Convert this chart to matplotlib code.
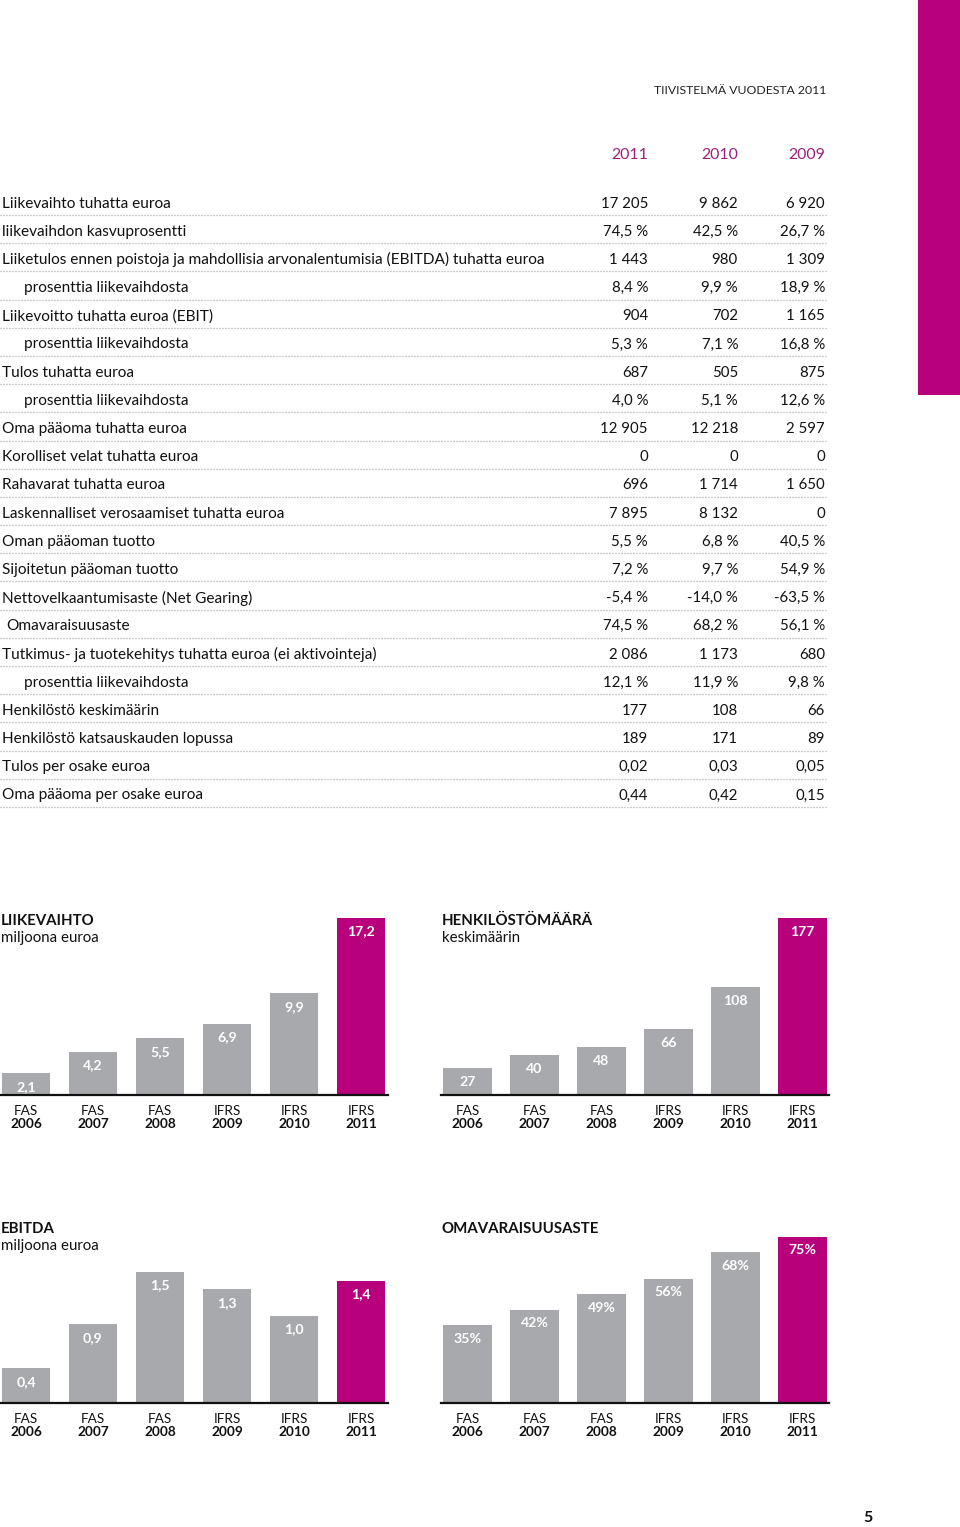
import matplotlib
matplotlib.use("Agg")
import matplotlib.pyplot as plt
from matplotlib.patches import Rectangle
from matplotlib.lines import Line2D

plt.rcParams['font.family'] = ['Lato', 'DejaVu Sans']

W, H = 960, 1527
MAGENTA = '#B8007C'
HEADER = '#9E1F7C'
GRAY = '#A7A9AC'

# ---------------- data ----------------
header_title = "TIIVISTELMÄ VUODESTA 2011"
years = ["2011", "2010", "2009"]

row_labels = [
    "Liikevaihto tuhatta euroa",
    "liikevaihdon kasvuprosentti",
    "Liiketulos ennen poistoja ja mahdollisia arvonalentumisia (EBITDA) tuhatta euroa",
    "prosenttia liikevaihdosta",
    "Liikevoitto tuhatta euroa (EBIT)",
    "prosenttia liikevaihdosta",
    "Tulos tuhatta euroa",
    "prosenttia liikevaihdosta",
    "Oma pääoma tuhatta euroa",
    "Korolliset velat tuhatta euroa",
    "Rahavarat tuhatta euroa",
    "Laskennalliset verosaamiset tuhatta euroa",
    "Oman pääoman tuotto",
    "Sijoitetun pääoman tuotto",
    "Nettovelkaantumisaste (Net Gearing)",
    "Omavaraisuusaste",
    "Tutkimus- ja tuotekehitys tuhatta euroa (ei aktivointeja)",
    "prosenttia liikevaihdosta",
    "Henkilöstö keskimäärin",
    "Henkilöstö katsauskauden lopussa",
    "Tulos per osake euroa",
    "Oma pääoma per osake euroa",
]
row_indent = [0, 0, 0, 2, 0, 2, 0, 2, 0, 0, 0, 0, 0, 0, 0, 1, 0, 2, 0, 0, 0, 0]
vals_2011 = ["17 205", "74,5 %", "1 443", "8,4 %", "904", "5,3 %", "687", "4,0 %",
             "12 905", "0", "696", "7 895", "5,5 %", "7,2 %", "-5,4 %", "74,5 %",
             "2 086", "12,1 %", "177", "189", "0,02", "0,44"]
vals_2010 = ["9 862", "42,5 %", "980", "9,9 %", "702", "7,1 %", "505", "5,1 %",
             "12 218", "0", "1 714", "8 132", "6,8 %", "9,7 %", "-14,0 %", "68,2 %",
             "1 173", "11,9 %", "108", "171", "0,03", "0,42"]
vals_2009 = ["6 920", "26,7 %", "1 309", "18,9 %", "1 165", "16,8 %", "875", "12,6 %",
             "2 597", "0", "1 650", "0", "40,5 %", "54,9 %", "-63,5 %", "56,1 %",
             "680", "9,8 %", "66", "89", "0,05", "0,15"]

chart_std = ["FAS", "FAS", "FAS", "IFRS", "IFRS", "IFRS"]
chart_years = ["2006", "2007", "2008", "2009", "2010", "2011"]

liikevaihto = [2.1, 4.2, 5.5, 6.9, 9.9, 17.2]
liikevaihto_lbl = ["2,1", "4,2", "5,5", "6,9", "9,9", "17,2"]
henkilosto = [27, 40, 48, 66, 108, 177]
henkilosto_lbl = ["27", "40", "48", "66", "108", "177"]
ebitda = [0.4, 0.9, 1.5, 1.3, 1.0, 1.4]
ebitda_lbl = ["0,4", "0,9", "1,5", "1,3", "1,0", "1,4"]
omavaraisuus = [35, 42, 49, 56, 68, 75]
omavaraisuus_lbl = ["35%", "42%", "49%", "56%", "68%", "75%"]

# ---------------- figure ----------------
fig = plt.figure(figsize=(W / 100, H / 100), dpi=100)
fig.patch.set_facecolor('white')


def fx(x):
    return x / W


def fy(y):
    return 1 - y / H


def ftext(x, y, s, **kw):
    kw.setdefault('va', 'center')
    fig.text(fx(x), fy(y), s, **kw)


# side magenta block
fig.patches.append(Rectangle((fx(918), fy(395)), fx(42), 395 / H,
                             transform=fig.transFigure, facecolor=MAGENTA,
                             edgecolor='none'))

ftext(826, 90, header_title, ha='right', fontsize=8.8, color='#222222')

col_x = [648, 738, 825]
for x, yr in zip(col_x, years):
    ftext(x, 155, yr, ha='right', fontsize=11.4, color=HEADER)

row0 = 203.5
dy = 28.19
indent_px = {0: 2, 1: 6, 2: 24}
for i, lab in enumerate(row_labels):
    y = row0 + i * dy
    ftext(indent_px[row_indent[i]], y, lab, ha='left', fontsize=11.1, color='#111111')
    for x, v in zip(col_x, (vals_2011[i], vals_2010[i], vals_2009[i])):
        ftext(x, y, v, ha='right', fontsize=10.8, color='#111111')
    ly = fy(y + 11.5)
    fig.lines.append(Line2D([fx(0), fx(827)], [ly, ly], transform=fig.transFigure,
                            color='#9a9a9a', lw=0.9, linestyle=(0, (0.8, 1.6))))


def bar_chart(left_px, baseline_px, height_px, values, labels, k,
              title, subtitle, title_y):
    width_px = 5.8 * 67
    ax = fig.add_axes([fx(left_px), fy(baseline_px), width_px / W, height_px / H])
    ax.set_xlim(-0.4, 5.4)
    ax.set_ylim(0, height_px / k)
    colors = [GRAY] * 5 + [MAGENTA]
    xs = list(range(len(values)))
    ax.bar(xs, values, width=0.72, color=colors, edgecolor='none')
    ax.axhline(0, color='#111111', lw=1.6, clip_on=False)
    for x, v, lab in zip(xs, values, labels):
        ax.annotate(lab, (x, v), xytext=(0, -9.8), textcoords='offset points',
                    ha='center', va='center', color='white', fontsize=10.2,
                    fontweight='bold')
    ax.axis('off')
    # category labels under the axis
    for x, s, yr in zip(xs, chart_std, chart_years):
        xp = left_px + (x + 0.4) * 67
        ftext(xp, baseline_px + 16, s, ha='center', fontsize=9.8, color='#111111')
        ftext(xp, baseline_px + 29, yr, ha='center', fontsize=9.8,
              fontweight='bold', color='#111111')
    tx = left_px + 1 if left_px > 5 else 1
    ftext(tx, title_y + 1, title, ha='left',
          fontsize=10.8, fontweight='bold', color='#111111')
    if subtitle:
        ftext(tx, title_y + 18, subtitle, ha='left',
              fontsize=10.8, color='#111111')
    return ax


bar_chart(-0.8, 1095, 200, liikevaihto, liikevaihto_lbl, 10.3,
          "LIIKEVAIHTO", "miljoona euroa", 920)
bar_chart(440.7, 1095, 200, henkilosto, henkilosto_lbl, 1.0,
          "HENKILÖSTÖMÄÄRÄ", "keskimäärin", 920)
bar_chart(-0.8, 1403, 200, ebitda, ebitda_lbl, 87.5,
          "EBITDA", "miljoona euroa", 1228)
bar_chart(440.7, 1403, 200, omavaraisuus, omavaraisuus_lbl, 2.217,
          "OMAVARAISUUSASTE", None, 1228)

ftext(868, 1518, "5", ha='center', fontsize=11.5, fontweight='bold', color='#111111')

fig.savefig("out.png", dpi=100)
